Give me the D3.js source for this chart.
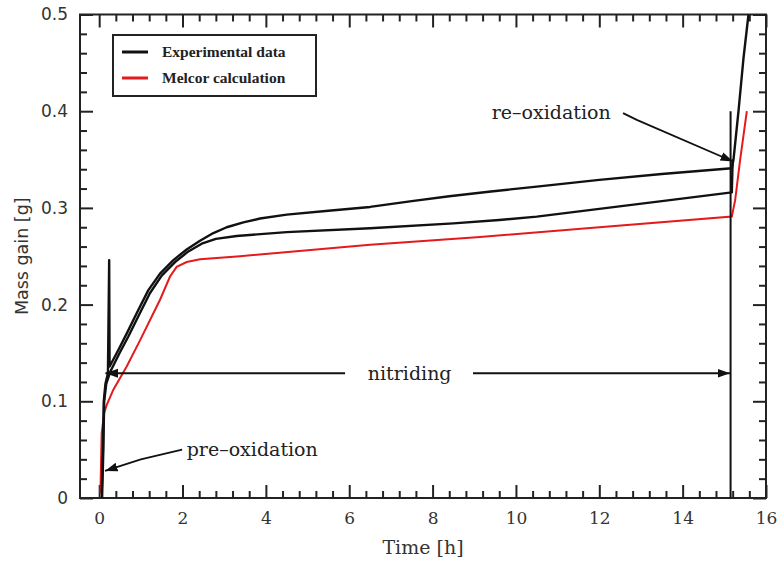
<!DOCTYPE html>
<html lang="en">
<head>
    <meta charset="UTF-8">
    <script src="https://d3js.org/d3.v7.min.js"></script>
    <title>Mass gain</title>
    <style>
      body { margin: 0; background: #fff; }
    </style>
</head>
<body>
    <div id="chart"></div>
<script>
    // experimental run 1 (upper curve) [time h, mass gain g]
    var expRun1 = [
      [0.06,0.005],[0.09,0.05],[0.11,0.10],[0.15,0.118],[0.21,0.129],[0.24,0.246],[0.25,0.136],
      [0.46,0.153],[0.66,0.170],[0.90,0.191],[1.18,0.215],[1.46,0.232],[1.78,0.246],
      [2.10,0.257],[2.42,0.266],[2.74,0.274],[3.06,0.280],[3.46,0.285],[3.86,0.289],
      [4.5,0.293],[5.5,0.297],[6.5,0.301],[7.5,0.307],[8.4,0.312],[9.4,0.317],
      [10.5,0.322],[12.0,0.329],[13.5,0.335],[15.18,0.341],[15.22,0.350],
      [15.34,0.400],[15.46,0.455],[15.58,0.500]
    ];
    // experimental run 2 (lower curve)
    var expRun2 = [
      [0.07,0.0],[0.10,0.05],[0.12,0.10],[0.17,0.118],[0.26,0.130],[0.49,0.150],
      [0.70,0.167],[0.94,0.188],[1.22,0.212],[1.50,0.230],[1.82,0.244],[2.14,0.255],
      [2.46,0.263],[2.80,0.268],[3.3,0.271],[4.5,0.275],[6.5,0.279],[8.5,0.284],
      [9.6,0.2875],[10.5,0.291],[12.0,0.299],[13.5,0.307],[15.18,0.316],[15.2,0.35]
    ];
    // vertical spike in the experimental record at the end of nitriding
    var expSpike = [[15.15,0.0],[15.15,0.40]];
    // Melcor calculation
    var melcor = [
      [0.03,0.005],[0.06,0.067],[0.12,0.088],[0.18,0.096],[0.34,0.112],[0.66,0.136],
      [0.98,0.163],[1.46,0.205],[1.70,0.229],[1.86,0.239],[2.1,0.244],[2.42,0.247],
      [3.38,0.250],[6.5,0.262],[9.14,0.270],[12.0,0.280],[15.18,0.291],[15.26,0.308],
      [15.38,0.35],[15.54,0.40]
    ];

    var xTicks = [0,2,4,6,8,10,12,14,16];
    var yTicks = [0,0.1,0.2,0.3,0.4,0.5];
    var legendLabels = ["Experimental data", "Melcor calculation"];

    var margin = {top: 14.5, right: 17, bottom: 68, left: 80},
        width = 783 - margin.left - margin.right,
        height = 566 - margin.top - margin.bottom;

    var svg = d3.select("#chart")
      .append("svg")
        .attr("width", 783)
        .attr("height", 566)
      .append("g")
        .attr("transform", "translate(" + margin.left + "," + margin.top + ")");

    var x = d3.scaleLinear().domain([-0.46, 16]).range([0, width]);
    var y = d3.scaleLinear().domain([0, 0.5]).range([height, 0]);

    var minorX = d3.range(0.4, 16, 0.4).filter(function(d){ return Math.abs(d/2 - Math.round(d/2)) > 0.01; });
    var minorY = d3.range(0.02, 0.5, 0.02).filter(function(d){ return Math.abs(d*10 - Math.round(d*10)) > 0.01; });

    var serif = "'DejaVu Serif', serif";
    var sans = "'DejaVu Sans', sans-serif";

    // frame
    svg.append("rect")
      .attr("width", width).attr("height", height)
      .attr("fill", "none").attr("stroke", "#222").attr("stroke-width", 2);

    function styleAxis(g) {
      g.select(".domain").remove();
      g.selectAll(".tick line").attr("stroke", "#222").attr("stroke-width", 2);
    }

    // bottom
    svg.append("g").attr("transform", "translate(0," + height + ")")
      .call(d3.axisBottom(x).tickValues(xTicks).tickSizeInner(-13).tickSizeOuter(0).tickPadding(14).tickFormat(d3.format("d")))
      .call(styleAxis)
      .selectAll("text").attr("font-family", serif).attr("font-size", 17).attr("fill", "#333");
    svg.append("g").attr("transform", "translate(0," + height + ")")
      .call(d3.axisBottom(x).tickValues(minorX).tickSizeInner(-7).tickSizeOuter(0).tickFormat(""))
      .call(styleAxis);
    // top
    svg.append("g")
      .call(d3.axisTop(x).tickValues(xTicks).tickSizeInner(-13).tickSizeOuter(0).tickFormat(""))
      .call(styleAxis);
    svg.append("g")
      .call(d3.axisTop(x).tickValues(minorX).tickSizeInner(-7).tickSizeOuter(0).tickFormat(""))
      .call(styleAxis);
    // left
    svg.append("g")
      .call(d3.axisLeft(y).tickValues(yTicks).tickSizeInner(-13).tickSizeOuter(0).tickPadding(12)
        .tickFormat(function(d){ return d === 0 ? "0" : d3.format(".1f")(d); }))
      .call(styleAxis)
      .selectAll("text").attr("font-family", sans).attr("font-size", 17).attr("fill", "#333");
    svg.append("g")
      .call(d3.axisLeft(y).tickValues(minorY).tickSizeInner(-7).tickSizeOuter(0).tickFormat(""))
      .call(styleAxis);
    // right
    svg.append("g").attr("transform", "translate(" + width + ",0)")
      .call(d3.axisRight(y).tickValues(yTicks).tickSizeInner(-13).tickSizeOuter(0).tickFormat(""))
      .call(styleAxis);
    svg.append("g").attr("transform", "translate(" + width + ",0)")
      .call(d3.axisRight(y).tickValues(minorY).tickSizeInner(-7).tickSizeOuter(0).tickFormat(""))
      .call(styleAxis);

    // axis titles
    svg.append("text")
      .attr("x", width / 2).attr("y", height + 56)
      .attr("text-anchor", "middle")
      .attr("font-family", serif).attr("font-size", 19).attr("fill", "#333")
      .text("Time [h]");
    svg.append("text")
      .attr("transform", "translate(" + (-52) + "," + (height / 2) + ") rotate(-90)")
      .attr("text-anchor", "middle")
      .attr("font-family", sans).attr("font-size", 17.5).attr("fill", "#333")
      .text("Mass gain [g]");

    var line = d3.line()
      .x(function(d){ return x(d[0]); })
      .y(function(d){ return y(d[1]); });

    // series
    svg.append("path").datum(melcor)
      .attr("d", line).attr("fill", "none").attr("stroke", "#e41a1c").attr("stroke-width", 2);
    [expRun2, expRun1].forEach(function(s){
      svg.append("path").datum(s)
        .attr("d", line).attr("fill", "none").attr("stroke", "#111").attr("stroke-width", 2.4)
        .attr("stroke-linejoin", "round");
    });
    svg.append("path").datum(expSpike)
      .attr("d", line).attr("fill", "none").attr("stroke", "#111").attr("stroke-width", 2);

    // arrow marker
    var defs = svg.append("defs");
    defs.append("marker")
      .attr("id", "arrow")
      .attr("viewBox", "0 0 10 10")
      .attr("refX", 10).attr("refY", 5)
      .attr("markerWidth", 7).attr("markerHeight", 7)
      .attr("orient", "auto-start-reverse")
      .append("path").attr("d", "M0,1.5L10,5L0,8.5Z").attr("fill", "#111");

    function leader(pts, start, end) {
      var p = svg.append("path").datum(pts)
        .attr("d", line).attr("fill", "none").attr("stroke", "#111").attr("stroke-width", 1.8);
      if (start) p.attr("marker-start", "url(#arrow)");
      if (end) p.attr("marker-end", "url(#arrow)");
    }
    function note(txt, t, v, anchor) {
      svg.append("text")
        .attr("x", x(t)).attr("y", y(v))
        .attr("text-anchor", anchor || "start")
        .attr("font-family", serif).attr("font-size", 19).attr("fill", "#222")
        .text(txt);
    }

    // annotations (data coordinates)
    leader([[0.14,0.028],[1.0,0.040],[1.99,0.05]], true, false);
    note("pre\u2013oxidation", 2.1, 0.043);

    leader([[0.15,0.129],[5.9,0.129]], true, false);
    leader([[8.97,0.129],[15.14,0.129]], false, true);
    note("nitriding", 7.45, 0.122, "middle");

    leader([[12.57,0.398],[12.9,0.391],[15.21,0.348]], false, true);
    note("re\u2013oxidation", 9.42, 0.392);

    // legend
    var legend = svg.append("g").attr("transform", "translate(" + (113 - margin.left) + "," + (35 - margin.top) + ")");
    legend.append("rect")
      .attr("width", 203).attr("height", 61)
      .attr("fill", "#fff").attr("stroke", "#222").attr("stroke-width", 2);
    var legendColors = ["#111", "#e41a1c"];
    legendLabels.forEach(function(lbl, i){
      legend.append("line")
        .attr("x1", 9).attr("x2", 35).attr("y1", 17 + i * 26).attr("y2", 17 + i * 26)
        .attr("stroke", legendColors[i]).attr("stroke-width", 3);
      legend.append("text")
        .attr("x", 49).attr("y", 22 + i * 26)
        .attr("font-family", "'Liberation Serif', serif").attr("font-weight", "bold")
        .attr("font-size", 15.5).attr("fill", "#222")
        .text(lbl);
    });
</script>
</body>
</html>
